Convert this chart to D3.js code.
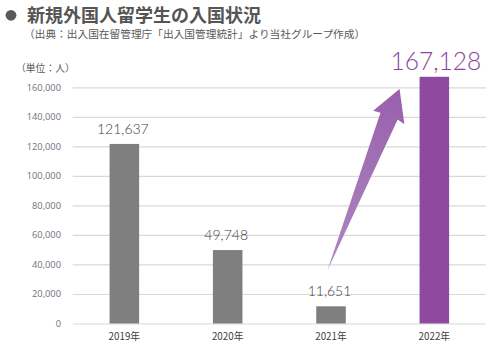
<!DOCTYPE html>
<html><head><meta charset="utf-8">
<script src="https://cdn.jsdelivr.net/npm/d3@7"></script>
<style>
html,body{margin:0;padding:0;background:#fff;}
svg{display:block;}
</style></head>
<body>
<script>
const categories = ["2019年","2020年","2021年","2022年"];
const values = [121637, 49748, 11651, 167128];
const yTicks = [0,20000,40000,60000,80000,100000,120000,140000,160000];
const titleText = "新規外国人留学生の入国状況";
const subtitleText = "（出典：出入国在留管理庁「出入国管理統計」より当社グループ作成）";
const unitText = "（単位：人）";

const W = 494, H = 343;
const svg = d3.select("body").append("svg").attr("width", W).attr("height", H);
const cjk = "'Noto Sans CJK JP', 'Noto Sans', sans-serif";

// Title
svg.append("circle").attr("cx", 11).attr("cy", 15.3).attr("r", 5.4).attr("fill", "#595959");
svg.append("text").attr("x", 27).attr("y", 21.5).attr("font-family", cjk).attr("font-weight", 700)
  .attr("font-size", 18).attr("fill", "#555").text(titleText);
svg.append("text").attr("x", 24).attr("y", 37.5).attr("font-family", cjk)
  .attr("font-size", 10.7).attr("fill", "#595959").text(subtitleText);
svg.append("text").attr("x", 16).attr("y", 72).attr("font-family", cjk)
  .attr("font-size", 9.8).attr("fill", "#595959").text(unitText);

const x = d3.scaleBand().domain(categories).range([72.7, 486]).paddingInner(0.714).paddingOuter(0.357);
const y = d3.scaleLinear().domain([0,160000]).range([323.5, 87.3]);

// grid
const grid = svg.append("g").attr("transform", "translate(72.7,0)")
  .call(d3.axisLeft(y).tickValues(yTicks).tickSize(-(486-72.7)).tickFormat(""));
grid.select(".domain").remove();
grid.selectAll("line").attr("stroke", "#d9d9d9").attr("stroke-width", 1.2);

// y labels
const yAx = svg.append("g").attr("transform", "translate(61,0)")
  .call(d3.axisLeft(y).tickValues(yTicks).tickSize(0).tickPadding(0).tickFormat(d3.format(",")));
yAx.select(".domain").remove();
yAx.selectAll("text").attr("font-family", "'Open Sans', sans-serif").attr("font-size", 9.3).attr("fill", "#6f7280");

// bars
const colors = ["#7f7f7f","#7f7f7f","#7f7f7f","#8f4a9f"];
svg.selectAll("rect.bar").data(values).join("rect").attr("class","bar")
  .attr("x", (d,i)=>x(categories[i])).attr("width", x.bandwidth())
  .attr("y", d=>y(d)).attr("height", d=>y(0)-y(d)).attr("fill", (d,i)=>colors[i]);

// x labels
const xAx = svg.append("g").attr("transform", `translate(0,${y(0)})`)
  .call(d3.axisBottom(x).tickSize(0).tickPadding(10));
xAx.select(".domain").remove();
xAx.selectAll("text").attr("font-family", cjk).attr("font-size", 9.8).attr("fill", "#404040");

// value labels
svg.selectAll("text.val").data(values.slice(0,3)).join("text").attr("class","val")
  .attr("x", (d,i)=>x(categories[i]) + x.bandwidth()/2 - 1.5).attr("y", d=>y(d) - 10)
  .attr("text-anchor","middle").attr("font-family","Lato, sans-serif").attr("font-weight",300)
  .attr("font-size", 14).attr("fill","#404040").text(d=>d3.format(",")(d));
svg.append("text")
  .attr("x", x(categories[3]) + x.bandwidth()/2 + 1.5).attr("y", 70)
  .attr("text-anchor","middle").attr("font-family","Lato, sans-serif").attr("font-weight",300)
  .attr("font-size", 24.5).attr("fill","#8a4499").text(d3.format(",")(values[3]));

// arrow from 2021 to 2022
const tail = [x(categories[2]) + x.bandwidth()/2 - 3.5, y(values[2]) - 36];
const tip = [x(categories[3]) - 20, y(160000) + 1.7];
const dx = tip[0]-tail[0], dy = tip[1]-tail[1], L = Math.hypot(dx,dy);
const u = [dx/L, dy/L], n = [-u[1], u[0]];
const pt = (back, side) => [tip[0] - u[0]*back + n[0]*side, tip[1] - u[1]*back + n[1]*side];
const poly = [tip, pt(31, 17.5), pt(29, 9.5), tail, pt(29, -9), pt(30, -16.5)];
const defs = svg.append("defs");
const grad = defs.append("linearGradient").attr("id","ag").attr("gradientUnits","userSpaceOnUse")
  .attr("x1", tail[0]).attr("y1", tail[1]).attr("x2", tip[0]).attr("y2", tip[1]);
grad.append("stop").attr("offset", 0).attr("stop-color", "#ae88c0");
grad.append("stop").attr("offset", 1).attr("stop-color", "#9860ac");
svg.append("path").attr("d", d3.line()(poly) + "Z").attr("fill", "url(#ag)");
</script>
</body></html>
